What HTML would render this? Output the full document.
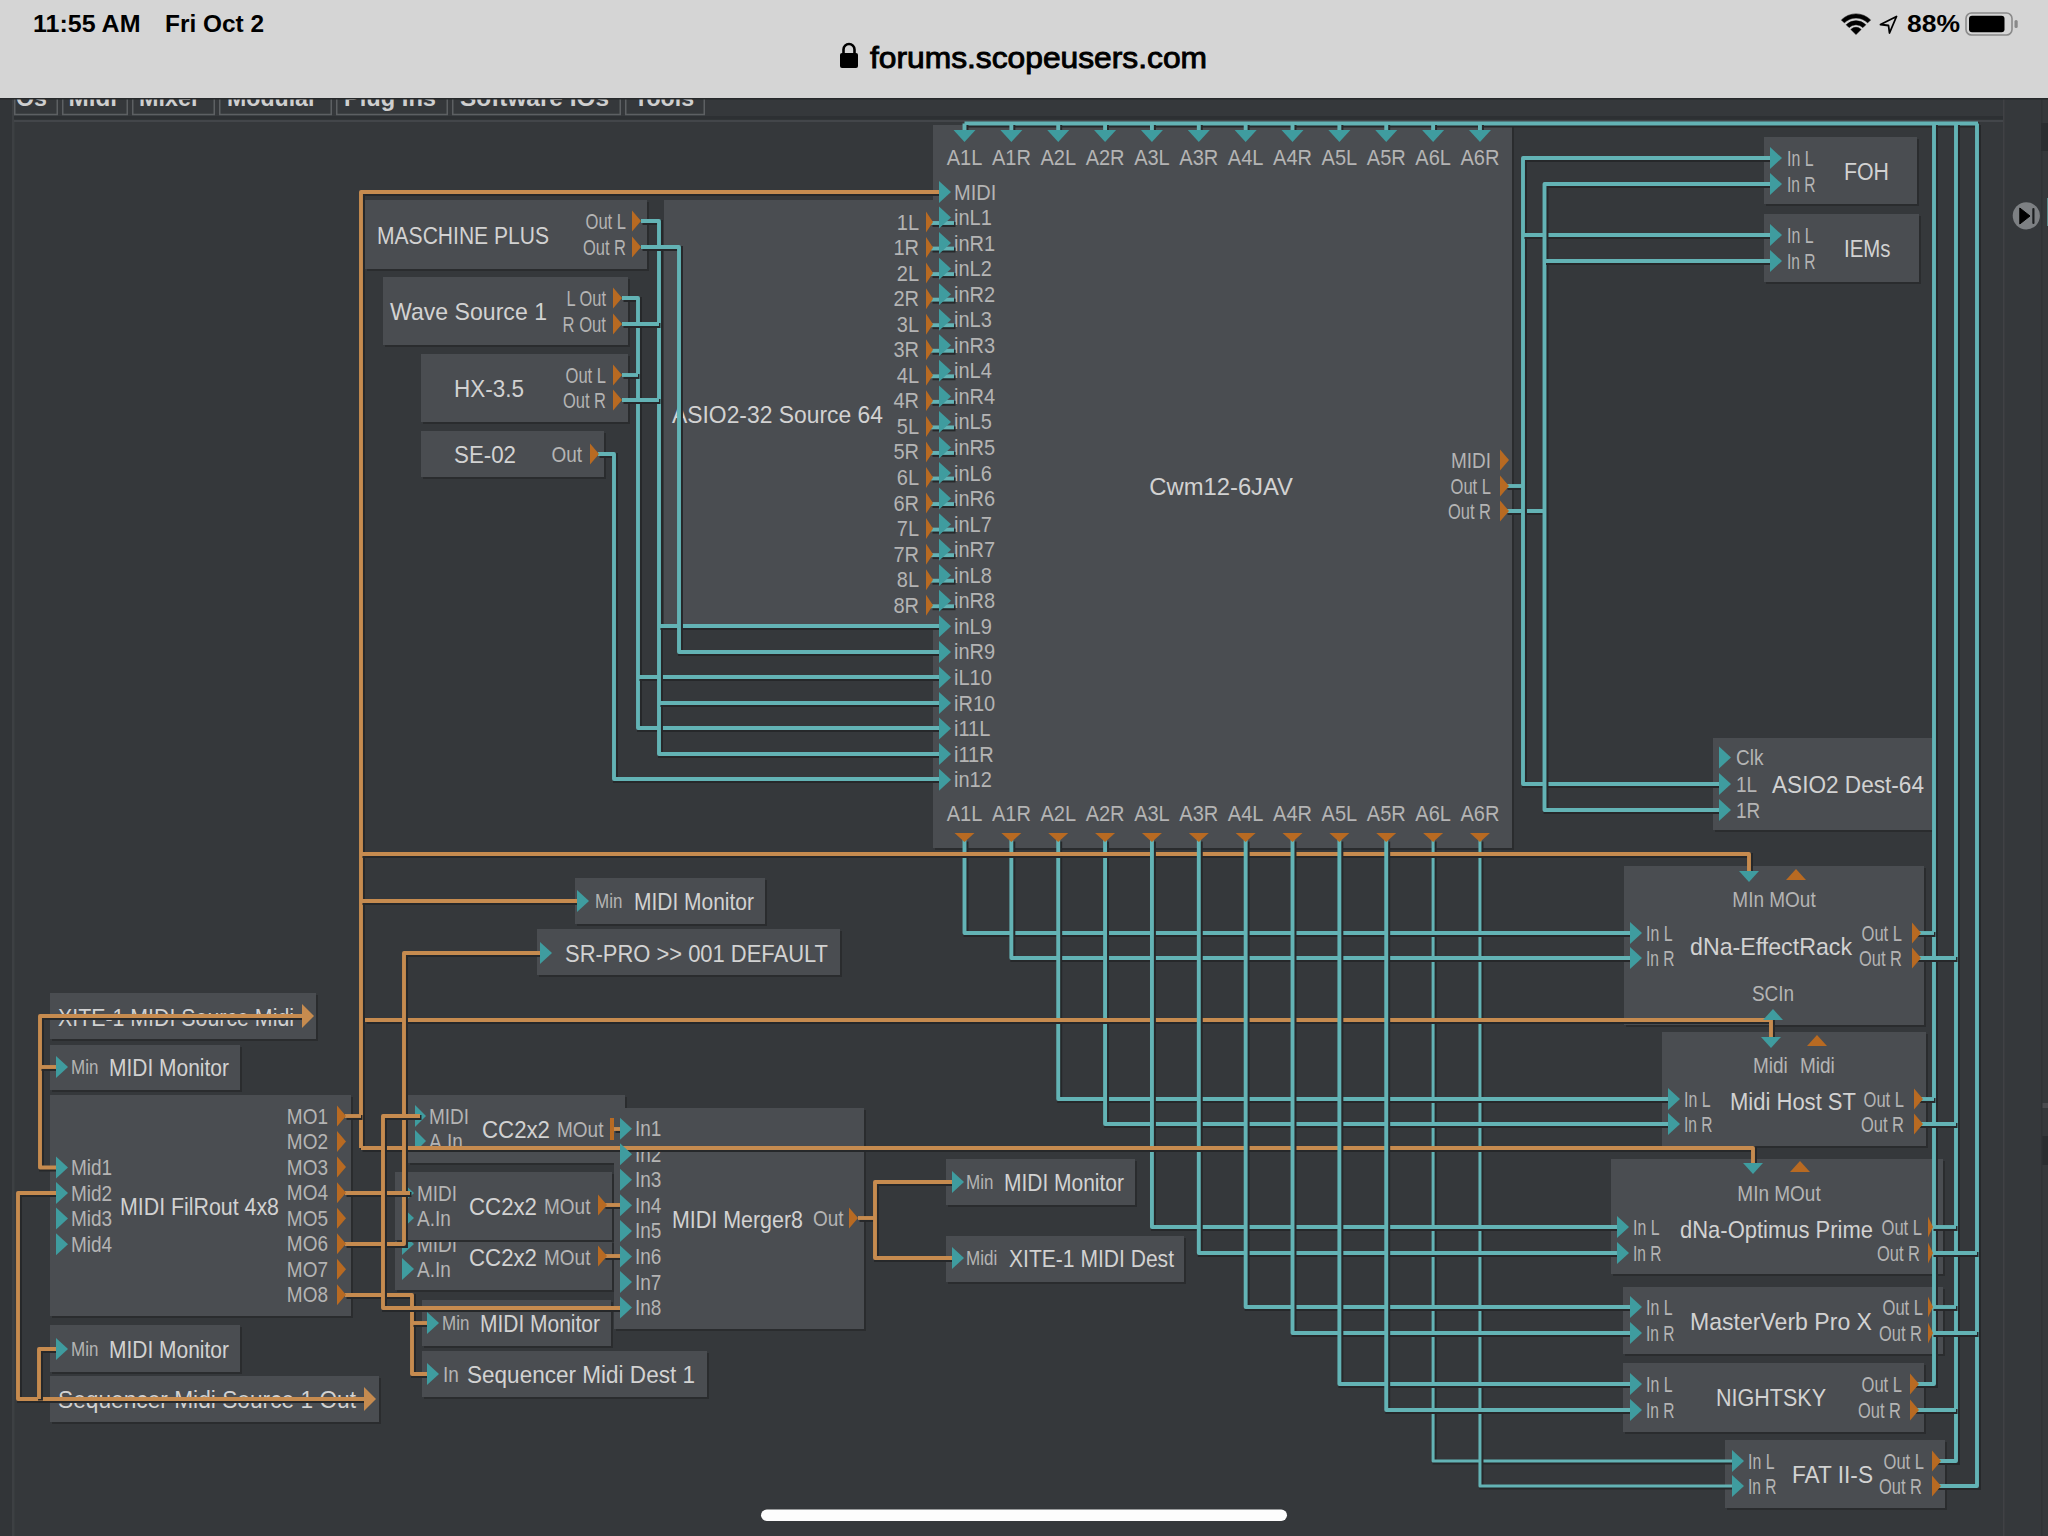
<!DOCTYPE html><html><head><meta charset="utf-8"><title>Scope</title><style>html,body{margin:0;padding:0;width:2048px;height:1536px;overflow:hidden;background:#35383b;}svg{display:block;}text{font-family:"Liberation Sans",sans-serif;}</style></head><body><svg width="2048" height="1536" viewBox="0 0 2048 1536"><rect x="0" y="0" width="2048" height="98" fill="#d5d5d5" />
<rect x="0" y="97" width="2048" height="2" fill="#2b2d2f" />
<rect x="0" y="99" width="2048" height="1437" fill="#35383b" />
<rect x="0" y="99" width="14" height="1437" fill="#323538" />
<rect x="12" y="99" width="2.5" height="1437" fill="#3d4043" />
<rect x="14" y="116" width="1989" height="3.5" fill="#2d3033" />
<rect x="14" y="120" width="1989" height="2" fill="#43464a" />
<rect x="2003" y="99" width="45" height="1437" fill="#35383b" />
<rect x="2003" y="99" width="1.5" height="1437" fill="#404145" />
<rect x="2041" y="1103" width="7" height="5" fill="#4a4b4f" />
<rect x="2041" y="1136" width="7" height="29" fill="#2a2d30" />
<rect x="2041" y="99" width="1.5" height="1437" fill="#2f3235" />
<rect x="2041" y="123" width="7" height="28" fill="#2a2d30" />
<rect x="14.75" y="80" width="42.5" height="34.5" fill="none" stroke="#5d6063" stroke-width="1.5"/>
<text x="16" y="106" font-size="23" font-weight="bold" fill="#cfcfcf" textLength="31" lengthAdjust="spacingAndGlyphs">Os</text>
<rect x="62.75" y="80" width="64.5" height="34.5" fill="none" stroke="#5d6063" stroke-width="1.5"/>
<text x="68.5" y="106" font-size="23" font-weight="bold" fill="#cfcfcf" textLength="48.5" lengthAdjust="spacingAndGlyphs">Midi</text>
<rect x="132.75" y="80" width="81.5" height="34.5" fill="none" stroke="#5d6063" stroke-width="1.5"/>
<text x="139" y="106" font-size="23" font-weight="bold" fill="#cfcfcf" textLength="61" lengthAdjust="spacingAndGlyphs">Mixer</text>
<rect x="219.75" y="80" width="111.5" height="34.5" fill="none" stroke="#5d6063" stroke-width="1.5"/>
<text x="227" y="106" font-size="23" font-weight="bold" fill="#cfcfcf" textLength="90" lengthAdjust="spacingAndGlyphs">Modular</text>
<rect x="336.75" y="80" width="110.5" height="34.5" fill="none" stroke="#5d6063" stroke-width="1.5"/>
<text x="344" y="106" font-size="23" font-weight="bold" fill="#cfcfcf" textLength="92" lengthAdjust="spacingAndGlyphs">Plug Ins</text>
<rect x="452.75" y="80" width="167.5" height="34.5" fill="none" stroke="#5d6063" stroke-width="1.5"/>
<text x="460" y="106" font-size="23" font-weight="bold" fill="#cfcfcf" textLength="149" lengthAdjust="spacingAndGlyphs">Software IOs</text>
<rect x="625.75" y="80" width="78.5" height="34.5" fill="none" stroke="#5d6063" stroke-width="1.5"/>
<text x="634" y="106" font-size="23" font-weight="bold" fill="#cfcfcf" textLength="60" lengthAdjust="spacingAndGlyphs">Tools</text>
<rect x="0" y="0" width="2048" height="98" fill="#d5d5d5" />
<rect x="0" y="98" width="2048" height="1.5" fill="#26282a" />
<rect x="367" y="202" width="282" height="69" fill="#2a2c2e" />
<rect x="365" y="200" width="282" height="69" fill="#4a4d51" />
<rect x="385" y="279" width="245" height="68" fill="#2a2c2e" />
<rect x="383" y="277" width="245" height="68" fill="#4a4d51" />
<rect x="423" y="356" width="207" height="68" fill="#2a2c2e" />
<rect x="421" y="354" width="207" height="68" fill="#4a4d51" />
<rect x="423" y="433" width="183" height="46" fill="#2a2c2e" />
<rect x="421" y="431" width="183" height="46" fill="#4a4d51" />
<rect x="666" y="202" width="269" height="424" fill="#2a2c2e" />
<rect x="664" y="200" width="269" height="424" fill="#4a4d51" />
<rect x="935" y="127" width="579" height="723" fill="#2a2c2e" />
<rect x="933" y="125" width="579" height="723" fill="#4a4d51" />
<rect x="1766" y="139" width="153" height="67" fill="#2a2c2e" />
<rect x="1764" y="137" width="153" height="67" fill="#4a4d51" />
<rect x="1766" y="216" width="155" height="68" fill="#2a2c2e" />
<rect x="1764" y="214" width="155" height="68" fill="#4a4d51" />
<rect x="1715" y="740" width="219" height="92" fill="#2a2c2e" />
<rect x="1713" y="738" width="219" height="92" fill="#4a4d51" />
<rect x="1626" y="868" width="300" height="159" fill="#2a2c2e" />
<rect x="1624" y="866" width="300" height="159" fill="#4a4d51" />
<rect x="1664" y="1034" width="264" height="114" fill="#2a2c2e" />
<rect x="1662" y="1032" width="264" height="114" fill="#4a4d51" />
<rect x="1613" y="1161" width="332" height="115" fill="#2a2c2e" />
<rect x="1611" y="1159" width="332" height="115" fill="#4a4d51" />
<rect x="1625" y="1289" width="320" height="67" fill="#2a2c2e" />
<rect x="1623" y="1287" width="320" height="67" fill="#4a4d51" />
<rect x="1625" y="1365" width="301" height="69" fill="#2a2c2e" />
<rect x="1623" y="1363" width="301" height="69" fill="#4a4d51" />
<rect x="1727" y="1442" width="220" height="68" fill="#2a2c2e" />
<rect x="1725" y="1440" width="220" height="68" fill="#4a4d51" />
<rect x="577" y="880" width="190" height="46" fill="#2a2c2e" />
<rect x="575" y="878" width="190" height="46" fill="#4a4d51" />
<rect x="539" y="931" width="303" height="46" fill="#2a2c2e" />
<rect x="537" y="929" width="303" height="46" fill="#4a4d51" />
<rect x="52" y="995" width="266" height="46" fill="#2a2c2e" />
<rect x="50" y="993" width="266" height="46" fill="#4a4d51" />
<rect x="52" y="1047" width="190" height="45" fill="#2a2c2e" />
<rect x="50" y="1045" width="190" height="45" fill="#4a4d51" />
<rect x="52" y="1097" width="301" height="221" fill="#2a2c2e" />
<rect x="50" y="1095" width="301" height="221" fill="#4a4d51" />
<rect x="424" y="1302" width="189" height="46" fill="#2a2c2e" />
<rect x="422" y="1300" width="189" height="46" fill="#4a4d51" />
<rect x="424" y="1353" width="285" height="46" fill="#2a2c2e" />
<rect x="422" y="1351" width="285" height="46" fill="#4a4d51" />
<rect x="52" y="1327" width="190" height="47" fill="#2a2c2e" />
<rect x="50" y="1325" width="190" height="47" fill="#4a4d51" />
<rect x="52" y="1378" width="329" height="46" fill="#2a2c2e" />
<rect x="50" y="1376" width="329" height="46" fill="#4a4d51" />
<rect x="948" y="1161" width="189" height="46" fill="#2a2c2e" />
<rect x="946" y="1159" width="189" height="46" fill="#4a4d51" />
<rect x="948" y="1238" width="238" height="46" fill="#2a2c2e" />
<rect x="946" y="1236" width="238" height="46" fill="#4a4d51" />
<text x="377" y="243.5" font-size="24.6" text-anchor="start" fill="#d2d2d2" font-weight="normal" textLength="172" lengthAdjust="spacingAndGlyphs">MASCHINE PLUS</text>
<text x="626" y="228.5" font-size="21.7" text-anchor="end" fill="#b4b4b4" font-weight="normal" textLength="40.5" lengthAdjust="spacingAndGlyphs">Out L</text>
<text x="626" y="254.5" font-size="21.7" text-anchor="end" fill="#b4b4b4" font-weight="normal" textLength="43" lengthAdjust="spacingAndGlyphs">Out R</text>
<text x="390" y="319.5" font-size="24.6" text-anchor="start" fill="#d2d2d2" font-weight="normal" textLength="157" lengthAdjust="spacingAndGlyphs">Wave Source 1</text>
<text x="606" y="305.5" font-size="21.7" text-anchor="end" fill="#b4b4b4" font-weight="normal" textLength="39.5" lengthAdjust="spacingAndGlyphs">L Out</text>
<text x="606" y="331.5" font-size="21.7" text-anchor="end" fill="#b4b4b4" font-weight="normal" textLength="43.5" lengthAdjust="spacingAndGlyphs">R Out</text>
<text x="454" y="396.5" font-size="24.6" text-anchor="start" fill="#d2d2d2" font-weight="normal" textLength="70" lengthAdjust="spacingAndGlyphs">HX-3.5</text>
<text x="606" y="382.5" font-size="21.7" text-anchor="end" fill="#b4b4b4" font-weight="normal" textLength="40.5" lengthAdjust="spacingAndGlyphs">Out L</text>
<text x="606" y="407.5" font-size="21.7" text-anchor="end" fill="#b4b4b4" font-weight="normal" textLength="43" lengthAdjust="spacingAndGlyphs">Out R</text>
<text x="454" y="462.5" font-size="24.6" text-anchor="start" fill="#d2d2d2" font-weight="normal" textLength="62" lengthAdjust="spacingAndGlyphs">SE-02</text>
<text transform="translate(582,461.5) scale(0.876,1)" x="0" y="0" font-size="21.7" text-anchor="end" fill="#b4b4b4" font-weight="normal">Out</text>
<text x="672" y="422.5" font-size="24.6" text-anchor="start" fill="#d2d2d2" font-weight="normal" textLength="211" lengthAdjust="spacingAndGlyphs">ASIO2-32 Source 64</text>
<text transform="translate(919,229.5) scale(0.922,1)" x="0" y="0" font-size="21.7" text-anchor="end" fill="#b4b4b4" font-weight="normal">1L</text>
<text transform="translate(919,255.0) scale(0.922,1)" x="0" y="0" font-size="21.7" text-anchor="end" fill="#b4b4b4" font-weight="normal">1R</text>
<text transform="translate(919,280.6) scale(0.922,1)" x="0" y="0" font-size="21.7" text-anchor="end" fill="#b4b4b4" font-weight="normal">2L</text>
<text transform="translate(919,306.1) scale(0.922,1)" x="0" y="0" font-size="21.7" text-anchor="end" fill="#b4b4b4" font-weight="normal">2R</text>
<text transform="translate(919,331.7) scale(0.922,1)" x="0" y="0" font-size="21.7" text-anchor="end" fill="#b4b4b4" font-weight="normal">3L</text>
<text transform="translate(919,357.2) scale(0.922,1)" x="0" y="0" font-size="21.7" text-anchor="end" fill="#b4b4b4" font-weight="normal">3R</text>
<text transform="translate(919,382.8) scale(0.922,1)" x="0" y="0" font-size="21.7" text-anchor="end" fill="#b4b4b4" font-weight="normal">4L</text>
<text transform="translate(919,408.3) scale(0.922,1)" x="0" y="0" font-size="21.7" text-anchor="end" fill="#b4b4b4" font-weight="normal">4R</text>
<text transform="translate(919,433.9) scale(0.922,1)" x="0" y="0" font-size="21.7" text-anchor="end" fill="#b4b4b4" font-weight="normal">5L</text>
<text transform="translate(919,459.4) scale(0.922,1)" x="0" y="0" font-size="21.7" text-anchor="end" fill="#b4b4b4" font-weight="normal">5R</text>
<text transform="translate(919,485.0) scale(0.922,1)" x="0" y="0" font-size="21.7" text-anchor="end" fill="#b4b4b4" font-weight="normal">6L</text>
<text transform="translate(919,510.5) scale(0.922,1)" x="0" y="0" font-size="21.7" text-anchor="end" fill="#b4b4b4" font-weight="normal">6R</text>
<text transform="translate(919,536.1) scale(0.922,1)" x="0" y="0" font-size="21.7" text-anchor="end" fill="#b4b4b4" font-weight="normal">7L</text>
<text transform="translate(919,561.6) scale(0.922,1)" x="0" y="0" font-size="21.7" text-anchor="end" fill="#b4b4b4" font-weight="normal">7R</text>
<text transform="translate(919,587.2) scale(0.922,1)" x="0" y="0" font-size="21.7" text-anchor="end" fill="#b4b4b4" font-weight="normal">8L</text>
<text transform="translate(919,612.7) scale(0.922,1)" x="0" y="0" font-size="21.7" text-anchor="end" fill="#b4b4b4" font-weight="normal">8R</text>
<text transform="translate(964.5,164.5) scale(0.922,1)" x="0" y="0" font-size="21.7" text-anchor="middle" fill="#b4b4b4" font-weight="normal">A1L</text>
<text transform="translate(964.5,820.5) scale(0.922,1)" x="0" y="0" font-size="21.7" text-anchor="middle" fill="#b4b4b4" font-weight="normal">A1L</text>
<text transform="translate(1011.36,164.5) scale(0.922,1)" x="0" y="0" font-size="21.7" text-anchor="middle" fill="#b4b4b4" font-weight="normal">A1R</text>
<text transform="translate(1011.36,820.5) scale(0.922,1)" x="0" y="0" font-size="21.7" text-anchor="middle" fill="#b4b4b4" font-weight="normal">A1R</text>
<text transform="translate(1058.22,164.5) scale(0.922,1)" x="0" y="0" font-size="21.7" text-anchor="middle" fill="#b4b4b4" font-weight="normal">A2L</text>
<text transform="translate(1058.22,820.5) scale(0.922,1)" x="0" y="0" font-size="21.7" text-anchor="middle" fill="#b4b4b4" font-weight="normal">A2L</text>
<text transform="translate(1105.08,164.5) scale(0.922,1)" x="0" y="0" font-size="21.7" text-anchor="middle" fill="#b4b4b4" font-weight="normal">A2R</text>
<text transform="translate(1105.08,820.5) scale(0.922,1)" x="0" y="0" font-size="21.7" text-anchor="middle" fill="#b4b4b4" font-weight="normal">A2R</text>
<text transform="translate(1151.94,164.5) scale(0.922,1)" x="0" y="0" font-size="21.7" text-anchor="middle" fill="#b4b4b4" font-weight="normal">A3L</text>
<text transform="translate(1151.94,820.5) scale(0.922,1)" x="0" y="0" font-size="21.7" text-anchor="middle" fill="#b4b4b4" font-weight="normal">A3L</text>
<text transform="translate(1198.8,164.5) scale(0.922,1)" x="0" y="0" font-size="21.7" text-anchor="middle" fill="#b4b4b4" font-weight="normal">A3R</text>
<text transform="translate(1198.8,820.5) scale(0.922,1)" x="0" y="0" font-size="21.7" text-anchor="middle" fill="#b4b4b4" font-weight="normal">A3R</text>
<text transform="translate(1245.6599999999999,164.5) scale(0.922,1)" x="0" y="0" font-size="21.7" text-anchor="middle" fill="#b4b4b4" font-weight="normal">A4L</text>
<text transform="translate(1245.6599999999999,820.5) scale(0.922,1)" x="0" y="0" font-size="21.7" text-anchor="middle" fill="#b4b4b4" font-weight="normal">A4L</text>
<text transform="translate(1292.52,164.5) scale(0.922,1)" x="0" y="0" font-size="21.7" text-anchor="middle" fill="#b4b4b4" font-weight="normal">A4R</text>
<text transform="translate(1292.52,820.5) scale(0.922,1)" x="0" y="0" font-size="21.7" text-anchor="middle" fill="#b4b4b4" font-weight="normal">A4R</text>
<text transform="translate(1339.38,164.5) scale(0.922,1)" x="0" y="0" font-size="21.7" text-anchor="middle" fill="#b4b4b4" font-weight="normal">A5L</text>
<text transform="translate(1339.38,820.5) scale(0.922,1)" x="0" y="0" font-size="21.7" text-anchor="middle" fill="#b4b4b4" font-weight="normal">A5L</text>
<text transform="translate(1386.24,164.5) scale(0.922,1)" x="0" y="0" font-size="21.7" text-anchor="middle" fill="#b4b4b4" font-weight="normal">A5R</text>
<text transform="translate(1386.24,820.5) scale(0.922,1)" x="0" y="0" font-size="21.7" text-anchor="middle" fill="#b4b4b4" font-weight="normal">A5R</text>
<text transform="translate(1433.1,164.5) scale(0.922,1)" x="0" y="0" font-size="21.7" text-anchor="middle" fill="#b4b4b4" font-weight="normal">A6L</text>
<text transform="translate(1433.1,820.5) scale(0.922,1)" x="0" y="0" font-size="21.7" text-anchor="middle" fill="#b4b4b4" font-weight="normal">A6L</text>
<text transform="translate(1479.96,164.5) scale(0.922,1)" x="0" y="0" font-size="21.7" text-anchor="middle" fill="#b4b4b4" font-weight="normal">A6R</text>
<text transform="translate(1479.96,820.5) scale(0.922,1)" x="0" y="0" font-size="21.7" text-anchor="middle" fill="#b4b4b4" font-weight="normal">A6R</text>
<text transform="translate(954,199.5) scale(0.922,1)" x="0" y="0" font-size="21.7" text-anchor="start" fill="#b4b4b4" font-weight="normal">MIDI</text>
<text transform="translate(954,225.0) scale(0.922,1)" x="0" y="0" font-size="21.7" text-anchor="start" fill="#b4b4b4" font-weight="normal">inL1</text>
<text transform="translate(954,250.6) scale(0.922,1)" x="0" y="0" font-size="21.7" text-anchor="start" fill="#b4b4b4" font-weight="normal">inR1</text>
<text transform="translate(954,276.1) scale(0.922,1)" x="0" y="0" font-size="21.7" text-anchor="start" fill="#b4b4b4" font-weight="normal">inL2</text>
<text transform="translate(954,301.7) scale(0.922,1)" x="0" y="0" font-size="21.7" text-anchor="start" fill="#b4b4b4" font-weight="normal">inR2</text>
<text transform="translate(954,327.2) scale(0.922,1)" x="0" y="0" font-size="21.7" text-anchor="start" fill="#b4b4b4" font-weight="normal">inL3</text>
<text transform="translate(954,352.8) scale(0.922,1)" x="0" y="0" font-size="21.7" text-anchor="start" fill="#b4b4b4" font-weight="normal">inR3</text>
<text transform="translate(954,378.3) scale(0.922,1)" x="0" y="0" font-size="21.7" text-anchor="start" fill="#b4b4b4" font-weight="normal">inL4</text>
<text transform="translate(954,403.9) scale(0.922,1)" x="0" y="0" font-size="21.7" text-anchor="start" fill="#b4b4b4" font-weight="normal">inR4</text>
<text transform="translate(954,429.4) scale(0.922,1)" x="0" y="0" font-size="21.7" text-anchor="start" fill="#b4b4b4" font-weight="normal">inL5</text>
<text transform="translate(954,455.0) scale(0.922,1)" x="0" y="0" font-size="21.7" text-anchor="start" fill="#b4b4b4" font-weight="normal">inR5</text>
<text transform="translate(954,480.5) scale(0.922,1)" x="0" y="0" font-size="21.7" text-anchor="start" fill="#b4b4b4" font-weight="normal">inL6</text>
<text transform="translate(954,506.1) scale(0.922,1)" x="0" y="0" font-size="21.7" text-anchor="start" fill="#b4b4b4" font-weight="normal">inR6</text>
<text transform="translate(954,531.6) scale(0.922,1)" x="0" y="0" font-size="21.7" text-anchor="start" fill="#b4b4b4" font-weight="normal">inL7</text>
<text transform="translate(954,557.2) scale(0.922,1)" x="0" y="0" font-size="21.7" text-anchor="start" fill="#b4b4b4" font-weight="normal">inR7</text>
<text transform="translate(954,582.7) scale(0.922,1)" x="0" y="0" font-size="21.7" text-anchor="start" fill="#b4b4b4" font-weight="normal">inL8</text>
<text transform="translate(954,608.3) scale(0.922,1)" x="0" y="0" font-size="21.7" text-anchor="start" fill="#b4b4b4" font-weight="normal">inR8</text>
<text transform="translate(954,633.8) scale(0.922,1)" x="0" y="0" font-size="21.7" text-anchor="start" fill="#b4b4b4" font-weight="normal">inL9</text>
<text transform="translate(954,659.4) scale(0.922,1)" x="0" y="0" font-size="21.7" text-anchor="start" fill="#b4b4b4" font-weight="normal">inR9</text>
<text transform="translate(954,684.9) scale(0.922,1)" x="0" y="0" font-size="21.7" text-anchor="start" fill="#b4b4b4" font-weight="normal">iL10</text>
<text transform="translate(954,710.5) scale(0.922,1)" x="0" y="0" font-size="21.7" text-anchor="start" fill="#b4b4b4" font-weight="normal">iR10</text>
<text transform="translate(954,736.0) scale(0.922,1)" x="0" y="0" font-size="21.7" text-anchor="start" fill="#b4b4b4" font-weight="normal">i11L</text>
<text transform="translate(954,761.6) scale(0.922,1)" x="0" y="0" font-size="21.7" text-anchor="start" fill="#b4b4b4" font-weight="normal">i11R</text>
<text transform="translate(954,787.1) scale(0.922,1)" x="0" y="0" font-size="21.7" text-anchor="start" fill="#b4b4b4" font-weight="normal">in12</text>
<text x="1149.3" y="494.7" font-size="24.6" text-anchor="start" fill="#d2d2d2" font-weight="normal" textLength="143.7" lengthAdjust="spacingAndGlyphs">Cwm12-6JAV</text>
<text transform="translate(1491,467.5) scale(0.876,1)" x="0" y="0" font-size="21.7" text-anchor="end" fill="#b4b4b4" font-weight="normal">MIDI</text>
<text x="1491" y="493.5" font-size="21.7" text-anchor="end" fill="#b4b4b4" font-weight="normal" textLength="40.5" lengthAdjust="spacingAndGlyphs">Out L</text>
<text x="1491" y="518.5" font-size="21.7" text-anchor="end" fill="#b4b4b4" font-weight="normal" textLength="43" lengthAdjust="spacingAndGlyphs">Out R</text>
<text x="1787" y="165.5" font-size="21.7" text-anchor="start" fill="#b4b4b4" font-weight="normal" textLength="26.5" lengthAdjust="spacingAndGlyphs">In L</text>
<text x="1787" y="191.5" font-size="21.7" text-anchor="start" fill="#b4b4b4" font-weight="normal" textLength="28.5" lengthAdjust="spacingAndGlyphs">In R</text>
<text x="1844" y="179.5" font-size="24.6" text-anchor="start" fill="#d2d2d2" font-weight="normal" textLength="45" lengthAdjust="spacingAndGlyphs">FOH</text>
<text x="1787" y="242.5" font-size="21.7" text-anchor="start" fill="#b4b4b4" font-weight="normal" textLength="26.5" lengthAdjust="spacingAndGlyphs">In L</text>
<text x="1787" y="268.5" font-size="21.7" text-anchor="start" fill="#b4b4b4" font-weight="normal" textLength="28.5" lengthAdjust="spacingAndGlyphs">In R</text>
<text x="1844" y="256.5" font-size="24.6" text-anchor="start" fill="#d2d2d2" font-weight="normal" textLength="46.5" lengthAdjust="spacingAndGlyphs">IEMs</text>
<text transform="translate(1736,765.0) scale(0.876,1)" x="0" y="0" font-size="21.7" text-anchor="start" fill="#b4b4b4" font-weight="normal">Clk</text>
<text transform="translate(1736,791.5) scale(0.876,1)" x="0" y="0" font-size="21.7" text-anchor="start" fill="#b4b4b4" font-weight="normal">1L</text>
<text transform="translate(1736,817.5) scale(0.876,1)" x="0" y="0" font-size="21.7" text-anchor="start" fill="#b4b4b4" font-weight="normal">1R</text>
<text x="1772" y="792.5" font-size="24.6" text-anchor="start" fill="#d2d2d2" font-weight="normal" textLength="152" lengthAdjust="spacingAndGlyphs">ASIO2 Dest-64</text>
<text transform="translate(1774,906.5) scale(0.876,1)" x="0" y="0" font-size="21.7" text-anchor="middle" fill="#b4b4b4" font-weight="normal">MIn MOut</text>
<text x="1646" y="940.5" font-size="21.7" text-anchor="start" fill="#b4b4b4" font-weight="normal" textLength="26.5" lengthAdjust="spacingAndGlyphs">In L</text>
<text x="1646" y="965.5" font-size="21.7" text-anchor="start" fill="#b4b4b4" font-weight="normal" textLength="28.5" lengthAdjust="spacingAndGlyphs">In R</text>
<text x="1690" y="954.5" font-size="24.6" text-anchor="start" fill="#d2d2d2" font-weight="normal" textLength="162" lengthAdjust="spacingAndGlyphs">dNa-EffectRack</text>
<text x="1902" y="940.5" font-size="21.7" text-anchor="end" fill="#b4b4b4" font-weight="normal" textLength="40.5" lengthAdjust="spacingAndGlyphs">Out L</text>
<text x="1902" y="965.5" font-size="21.7" text-anchor="end" fill="#b4b4b4" font-weight="normal" textLength="43" lengthAdjust="spacingAndGlyphs">Out R</text>
<text transform="translate(1773,1000.5) scale(0.876,1)" x="0" y="0" font-size="21.7" text-anchor="middle" fill="#b4b4b4" font-weight="normal">SCIn</text>
<text transform="translate(1753,1072.5) scale(0.876,1)" x="0" y="0" font-size="21.7" text-anchor="start" fill="#b4b4b4" font-weight="normal">Midi</text>
<text transform="translate(1800,1072.5) scale(0.876,1)" x="0" y="0" font-size="21.7" text-anchor="start" fill="#b4b4b4" font-weight="normal">Midi</text>
<text x="1684" y="1106.5" font-size="21.7" text-anchor="start" fill="#b4b4b4" font-weight="normal" textLength="26.5" lengthAdjust="spacingAndGlyphs">In L</text>
<text x="1684" y="1131.5" font-size="21.7" text-anchor="start" fill="#b4b4b4" font-weight="normal" textLength="28.5" lengthAdjust="spacingAndGlyphs">In R</text>
<text x="1730" y="1109.5" font-size="24.6" text-anchor="start" fill="#d2d2d2" font-weight="normal" textLength="126" lengthAdjust="spacingAndGlyphs">Midi Host ST</text>
<text x="1904" y="1106.5" font-size="21.7" text-anchor="end" fill="#b4b4b4" font-weight="normal" textLength="40.5" lengthAdjust="spacingAndGlyphs">Out L</text>
<text x="1904" y="1131.5" font-size="21.7" text-anchor="end" fill="#b4b4b4" font-weight="normal" textLength="43" lengthAdjust="spacingAndGlyphs">Out R</text>
<text transform="translate(1779,1200.5) scale(0.876,1)" x="0" y="0" font-size="21.7" text-anchor="middle" fill="#b4b4b4" font-weight="normal">MIn MOut</text>
<text x="1633" y="1234.5" font-size="21.7" text-anchor="start" fill="#b4b4b4" font-weight="normal" textLength="26.5" lengthAdjust="spacingAndGlyphs">In L</text>
<text x="1633" y="1260.5" font-size="21.7" text-anchor="start" fill="#b4b4b4" font-weight="normal" textLength="28.5" lengthAdjust="spacingAndGlyphs">In R</text>
<text x="1680" y="1237.5" font-size="24.6" text-anchor="start" fill="#d2d2d2" font-weight="normal" textLength="193" lengthAdjust="spacingAndGlyphs">dNa-Optimus Prime</text>
<text x="1922" y="1234.5" font-size="21.7" text-anchor="end" fill="#b4b4b4" font-weight="normal" textLength="40.5" lengthAdjust="spacingAndGlyphs">Out L</text>
<text x="1920" y="1260.5" font-size="21.7" text-anchor="end" fill="#b4b4b4" font-weight="normal" textLength="43" lengthAdjust="spacingAndGlyphs">Out R</text>
<text x="1646" y="1314.5" font-size="21.7" text-anchor="start" fill="#b4b4b4" font-weight="normal" textLength="26.5" lengthAdjust="spacingAndGlyphs">In L</text>
<text x="1646" y="1340.5" font-size="21.7" text-anchor="start" fill="#b4b4b4" font-weight="normal" textLength="28.5" lengthAdjust="spacingAndGlyphs">In R</text>
<text x="1690" y="1329.5" font-size="24.6" text-anchor="start" fill="#d2d2d2" font-weight="normal" textLength="182" lengthAdjust="spacingAndGlyphs">MasterVerb Pro X</text>
<text x="1923" y="1314.5" font-size="21.7" text-anchor="end" fill="#b4b4b4" font-weight="normal" textLength="40.5" lengthAdjust="spacingAndGlyphs">Out L</text>
<text x="1922" y="1340.5" font-size="21.7" text-anchor="end" fill="#b4b4b4" font-weight="normal" textLength="43" lengthAdjust="spacingAndGlyphs">Out R</text>
<text x="1646" y="1391.5" font-size="21.7" text-anchor="start" fill="#b4b4b4" font-weight="normal" textLength="26.5" lengthAdjust="spacingAndGlyphs">In L</text>
<text x="1646" y="1417.5" font-size="21.7" text-anchor="start" fill="#b4b4b4" font-weight="normal" textLength="28.5" lengthAdjust="spacingAndGlyphs">In R</text>
<text x="1771" y="1405.5" font-size="24.6" text-anchor="middle" fill="#d2d2d2" font-weight="normal" textLength="110" lengthAdjust="spacingAndGlyphs">NIGHTSKY</text>
<text x="1902" y="1391.5" font-size="21.7" text-anchor="end" fill="#b4b4b4" font-weight="normal" textLength="40.5" lengthAdjust="spacingAndGlyphs">Out L</text>
<text x="1901" y="1417.5" font-size="21.7" text-anchor="end" fill="#b4b4b4" font-weight="normal" textLength="43" lengthAdjust="spacingAndGlyphs">Out R</text>
<text x="1748" y="1468.5" font-size="21.7" text-anchor="start" fill="#b4b4b4" font-weight="normal" textLength="26.5" lengthAdjust="spacingAndGlyphs">In L</text>
<text x="1748" y="1493.5" font-size="21.7" text-anchor="start" fill="#b4b4b4" font-weight="normal" textLength="28.5" lengthAdjust="spacingAndGlyphs">In R</text>
<text x="1792" y="1482.5" font-size="24.6" text-anchor="start" fill="#d2d2d2" font-weight="normal" textLength="81" lengthAdjust="spacingAndGlyphs">FAT II-S</text>
<text x="1924" y="1468.5" font-size="21.7" text-anchor="end" fill="#b4b4b4" font-weight="normal" textLength="40.5" lengthAdjust="spacingAndGlyphs">Out L</text>
<text x="1922" y="1493.5" font-size="21.7" text-anchor="end" fill="#b4b4b4" font-weight="normal" textLength="43" lengthAdjust="spacingAndGlyphs">Out R</text>
<text transform="translate(595,907.9) scale(0.854,1)" x="0" y="0" font-size="19.9" text-anchor="start" fill="#b4b4b4" font-weight="normal">Min</text>
<text x="634" y="909.5" font-size="24.6" text-anchor="start" fill="#d2d2d2" font-weight="normal" textLength="120" lengthAdjust="spacingAndGlyphs">MIDI Monitor</text>
<text x="565" y="961.5" font-size="24.6" text-anchor="start" fill="#d2d2d2" font-weight="normal" textLength="263" lengthAdjust="spacingAndGlyphs">SR-PRO &gt;&gt; 001 DEFAULT</text>
<text x="58" y="1025.5" font-size="24.6" text-anchor="start" fill="#d2d2d2" font-weight="normal" textLength="236" lengthAdjust="spacingAndGlyphs">XITE-1 MIDI Source  Midi</text>
<text transform="translate(71,1073.9) scale(0.854,1)" x="0" y="0" font-size="19.9" text-anchor="start" fill="#b4b4b4" font-weight="normal">Min</text>
<text x="109" y="1075.5" font-size="24.6" text-anchor="start" fill="#d2d2d2" font-weight="normal" textLength="120" lengthAdjust="spacingAndGlyphs">MIDI Monitor</text>
<text transform="translate(71,1175.0) scale(0.876,1)" x="0" y="0" font-size="21.7" text-anchor="start" fill="#b4b4b4" font-weight="normal">Mid1</text>
<text transform="translate(71,1200.5) scale(0.876,1)" x="0" y="0" font-size="21.7" text-anchor="start" fill="#b4b4b4" font-weight="normal">Mid2</text>
<text transform="translate(71,1226.1) scale(0.876,1)" x="0" y="0" font-size="21.7" text-anchor="start" fill="#b4b4b4" font-weight="normal">Mid3</text>
<text transform="translate(71,1251.6) scale(0.876,1)" x="0" y="0" font-size="21.7" text-anchor="start" fill="#b4b4b4" font-weight="normal">Mid4</text>
<text transform="translate(328,1123.5) scale(0.876,1)" x="0" y="0" font-size="21.7" text-anchor="end" fill="#b4b4b4" font-weight="normal">MO1</text>
<text transform="translate(328,1149.0) scale(0.876,1)" x="0" y="0" font-size="21.7" text-anchor="end" fill="#b4b4b4" font-weight="normal">MO2</text>
<text transform="translate(328,1174.6) scale(0.876,1)" x="0" y="0" font-size="21.7" text-anchor="end" fill="#b4b4b4" font-weight="normal">MO3</text>
<text transform="translate(328,1200.1) scale(0.876,1)" x="0" y="0" font-size="21.7" text-anchor="end" fill="#b4b4b4" font-weight="normal">MO4</text>
<text transform="translate(328,1225.7) scale(0.876,1)" x="0" y="0" font-size="21.7" text-anchor="end" fill="#b4b4b4" font-weight="normal">MO5</text>
<text transform="translate(328,1251.2) scale(0.876,1)" x="0" y="0" font-size="21.7" text-anchor="end" fill="#b4b4b4" font-weight="normal">MO6</text>
<text transform="translate(328,1276.8) scale(0.876,1)" x="0" y="0" font-size="21.7" text-anchor="end" fill="#b4b4b4" font-weight="normal">MO7</text>
<text transform="translate(328,1302.3) scale(0.876,1)" x="0" y="0" font-size="21.7" text-anchor="end" fill="#b4b4b4" font-weight="normal">MO8</text>
<text x="120" y="1214.5" font-size="24.6" text-anchor="start" fill="#d2d2d2" font-weight="normal" textLength="159" lengthAdjust="spacingAndGlyphs">MIDI FilRout 4x8</text>
<rect x="410" y="1097" width="217" height="68" fill="#2a2c2e" />
<rect x="408" y="1095" width="217" height="68" fill="#4a4d51" />
<text transform="translate(429,1123.5) scale(0.876,1)" x="0" y="0" font-size="21.7" text-anchor="start" fill="#b4b4b4" font-weight="normal">MIDI</text>
<text transform="translate(429,1148.5) scale(0.876,1)" x="0" y="0" font-size="21.7" text-anchor="start" fill="#b4b4b4" font-weight="normal">A.In</text>
<text x="482" y="1137.5" font-size="24.6" text-anchor="start" fill="#d2d2d2" font-weight="normal" textLength="68" lengthAdjust="spacingAndGlyphs">CC2x2</text>
<text transform="translate(557,1136.5) scale(0.876,1)" x="0" y="0" font-size="21.7" text-anchor="start" fill="#b4b4b4" font-weight="normal">MOut</text>
<polygon points="415,1105.0 426,1116 415,1127.0" fill="#3f9c9f"/>
<polygon points="415,1130.0 426,1141 415,1152.0" fill="#3f9c9f"/>
<rect x="610" y="1118" width="4" height="22" fill="#b86a22" />
<rect x="616" y="1110" width="250" height="221" fill="#2a2c2e" />
<rect x="614" y="1108" width="250" height="221" fill="#4a4d51" />
<text transform="translate(635,1136.2) scale(0.876,1)" x="0" y="0" font-size="21.7" text-anchor="start" fill="#b4b4b4" font-weight="normal">In1</text>
<text transform="translate(635,1161.7) scale(0.876,1)" x="0" y="0" font-size="21.7" text-anchor="start" fill="#b4b4b4" font-weight="normal">In2</text>
<text transform="translate(635,1187.3) scale(0.876,1)" x="0" y="0" font-size="21.7" text-anchor="start" fill="#b4b4b4" font-weight="normal">In3</text>
<text transform="translate(635,1212.8) scale(0.876,1)" x="0" y="0" font-size="21.7" text-anchor="start" fill="#b4b4b4" font-weight="normal">In4</text>
<text transform="translate(635,1238.4) scale(0.876,1)" x="0" y="0" font-size="21.7" text-anchor="start" fill="#b4b4b4" font-weight="normal">In5</text>
<text transform="translate(635,1263.9) scale(0.876,1)" x="0" y="0" font-size="21.7" text-anchor="start" fill="#b4b4b4" font-weight="normal">In6</text>
<text transform="translate(635,1289.5) scale(0.876,1)" x="0" y="0" font-size="21.7" text-anchor="start" fill="#b4b4b4" font-weight="normal">In7</text>
<text transform="translate(635,1315.0) scale(0.876,1)" x="0" y="0" font-size="21.7" text-anchor="start" fill="#b4b4b4" font-weight="normal">In8</text>
<text x="672" y="1227.5" font-size="24.6" text-anchor="start" fill="#d2d2d2" font-weight="normal" textLength="131" lengthAdjust="spacingAndGlyphs">MIDI Merger8</text>
<text transform="translate(813,1225.5) scale(0.876,1)" x="0" y="0" font-size="21.7" text-anchor="start" fill="#b4b4b4" font-weight="normal">Out</text>
<rect x="397" y="1243" width="217" height="49" fill="#2a2c2e" />
<rect x="395" y="1241" width="217" height="49" fill="#4a4d51" />
<text transform="translate(417,1251.5) scale(0.876,1)" x="0" y="0" font-size="21.7" text-anchor="start" fill="#b4b4b4" font-weight="normal">MIDI</text>
<text transform="translate(417,1276.5) scale(0.876,1)" x="0" y="0" font-size="21.7" text-anchor="start" fill="#b4b4b4" font-weight="normal">A.In</text>
<text x="469" y="1265.5" font-size="24.6" text-anchor="start" fill="#d2d2d2" font-weight="normal" textLength="68" lengthAdjust="spacingAndGlyphs">CC2x2</text>
<text transform="translate(544,1264.5) scale(0.876,1)" x="0" y="0" font-size="21.7" text-anchor="start" fill="#b4b4b4" font-weight="normal">MOut</text>
<polygon points="402,1233.0 414,1244 402,1255.0" fill="#3f9c9f"/>
<polygon points="402,1258.0 414,1269 402,1280.0" fill="#3f9c9f"/>
<rect x="397" y="1174" width="217" height="68" fill="#2a2c2e" />
<rect x="395" y="1172" width="217" height="68" fill="#4a4d51" />
<text transform="translate(417,1200.5) scale(0.876,1)" x="0" y="0" font-size="21.7" text-anchor="start" fill="#b4b4b4" font-weight="normal">MIDI</text>
<text transform="translate(417,1225.5) scale(0.876,1)" x="0" y="0" font-size="21.7" text-anchor="start" fill="#b4b4b4" font-weight="normal">A.In</text>
<text x="469" y="1214.5" font-size="24.6" text-anchor="start" fill="#d2d2d2" font-weight="normal" textLength="68" lengthAdjust="spacingAndGlyphs">CC2x2</text>
<text transform="translate(544,1213.5) scale(0.876,1)" x="0" y="0" font-size="21.7" text-anchor="start" fill="#b4b4b4" font-weight="normal">MOut</text>
<polygon points="402,1182.0 414,1193 402,1204.0" fill="#3f9c9f"/>
<polygon points="402,1207.0 414,1218 402,1229.0" fill="#3f9c9f"/>
<text transform="translate(442,1329.9) scale(0.854,1)" x="0" y="0" font-size="19.9" text-anchor="start" fill="#b4b4b4" font-weight="normal">Min</text>
<text x="480" y="1331.5" font-size="24.6" text-anchor="start" fill="#d2d2d2" font-weight="normal" textLength="120" lengthAdjust="spacingAndGlyphs">MIDI Monitor</text>
<text transform="translate(443,1381.5) scale(0.876,1)" x="0" y="0" font-size="21.7" text-anchor="start" fill="#b4b4b4" font-weight="normal">In</text>
<text x="467" y="1382.5" font-size="24.6" text-anchor="start" fill="#d2d2d2" font-weight="normal" textLength="228" lengthAdjust="spacingAndGlyphs">Sequencer Midi Dest 1</text>
<text transform="translate(71,1355.9) scale(0.854,1)" x="0" y="0" font-size="19.9" text-anchor="start" fill="#b4b4b4" font-weight="normal">Min</text>
<text x="109" y="1357.5" font-size="24.6" text-anchor="start" fill="#d2d2d2" font-weight="normal" textLength="120" lengthAdjust="spacingAndGlyphs">MIDI Monitor</text>
<text x="58" y="1407.5" font-size="24.6" text-anchor="start" fill="#d2d2d2" font-weight="normal" textLength="298" lengthAdjust="spacingAndGlyphs">Sequencer Midi Source 1  Out</text>
<text transform="translate(966,1188.9) scale(0.854,1)" x="0" y="0" font-size="19.9" text-anchor="start" fill="#b4b4b4" font-weight="normal">Min</text>
<text x="1004" y="1190.5" font-size="24.6" text-anchor="start" fill="#d2d2d2" font-weight="normal" textLength="120" lengthAdjust="spacingAndGlyphs">MIDI Monitor</text>
<text transform="translate(966,1264.9) scale(0.854,1)" x="0" y="0" font-size="19.9" text-anchor="start" fill="#b4b4b4" font-weight="normal">Midi</text>
<text x="1009" y="1266.5" font-size="24.6" text-anchor="start" fill="#d2d2d2" font-weight="normal" textLength="165" lengthAdjust="spacingAndGlyphs">XITE-1 MIDI Dest</text>
<polyline points="966.0,125.0 1979.5,125.0" fill="none" stroke="#26282a" stroke-width="4.9"/>
<polyline points="964.5,123.5 1978,123.5" fill="none" stroke="#63b3b5" stroke-width="3.9" stroke-linejoin="round"/>
<polyline points="966.0,125.0 966.0,135.5" fill="none" stroke="#26282a" stroke-width="4.9"/>
<polyline points="964.5,123.5 964.5,134" fill="none" stroke="#63b3b5" stroke-width="3.9" stroke-linejoin="round"/>
<polyline points="1012.86,125.0 1012.86,135.5" fill="none" stroke="#26282a" stroke-width="4.9"/>
<polyline points="1011.36,123.5 1011.36,134" fill="none" stroke="#63b3b5" stroke-width="3.9" stroke-linejoin="round"/>
<polyline points="1059.72,125.0 1059.72,135.5" fill="none" stroke="#26282a" stroke-width="4.9"/>
<polyline points="1058.22,123.5 1058.22,134" fill="none" stroke="#63b3b5" stroke-width="3.9" stroke-linejoin="round"/>
<polyline points="1106.58,125.0 1106.58,135.5" fill="none" stroke="#26282a" stroke-width="4.9"/>
<polyline points="1105.08,123.5 1105.08,134" fill="none" stroke="#63b3b5" stroke-width="3.9" stroke-linejoin="round"/>
<polyline points="1153.44,125.0 1153.44,135.5" fill="none" stroke="#26282a" stroke-width="4.9"/>
<polyline points="1151.94,123.5 1151.94,134" fill="none" stroke="#63b3b5" stroke-width="3.9" stroke-linejoin="round"/>
<polyline points="1200.3,125.0 1200.3,135.5" fill="none" stroke="#26282a" stroke-width="4.9"/>
<polyline points="1198.8,123.5 1198.8,134" fill="none" stroke="#63b3b5" stroke-width="3.9" stroke-linejoin="round"/>
<polyline points="1247.1599999999999,125.0 1247.1599999999999,135.5" fill="none" stroke="#26282a" stroke-width="4.9"/>
<polyline points="1245.6599999999999,123.5 1245.6599999999999,134" fill="none" stroke="#63b3b5" stroke-width="3.9" stroke-linejoin="round"/>
<polyline points="1294.02,125.0 1294.02,135.5" fill="none" stroke="#26282a" stroke-width="4.9"/>
<polyline points="1292.52,123.5 1292.52,134" fill="none" stroke="#63b3b5" stroke-width="3.9" stroke-linejoin="round"/>
<polyline points="1340.88,125.0 1340.88,135.5" fill="none" stroke="#26282a" stroke-width="4.9"/>
<polyline points="1339.38,123.5 1339.38,134" fill="none" stroke="#63b3b5" stroke-width="3.9" stroke-linejoin="round"/>
<polyline points="1387.74,125.0 1387.74,135.5" fill="none" stroke="#26282a" stroke-width="4.9"/>
<polyline points="1386.24,123.5 1386.24,134" fill="none" stroke="#63b3b5" stroke-width="3.9" stroke-linejoin="round"/>
<polyline points="1434.6,125.0 1434.6,135.5" fill="none" stroke="#26282a" stroke-width="4.9"/>
<polyline points="1433.1,123.5 1433.1,134" fill="none" stroke="#63b3b5" stroke-width="3.9" stroke-linejoin="round"/>
<polyline points="1481.46,125.0 1481.46,135.5" fill="none" stroke="#26282a" stroke-width="4.9"/>
<polyline points="1479.96,123.5 1479.96,134" fill="none" stroke="#63b3b5" stroke-width="3.9" stroke-linejoin="round"/>
<polyline points="1935.5,125.0 1935.5,1385.5 1915.5,1385.5" fill="none" stroke="#26282a" stroke-width="4.9"/>
<polyline points="1934,123.5 1934,1384 1914,1384" fill="none" stroke="#63b3b5" stroke-width="3.9" stroke-linejoin="round"/>
<polyline points="1957.5,125.0 1957.5,1462.5 1937.5,1462.5" fill="none" stroke="#26282a" stroke-width="4.9"/>
<polyline points="1956,123.5 1956,1461 1936,1461" fill="none" stroke="#63b3b5" stroke-width="3.9" stroke-linejoin="round"/>
<polyline points="1978.5,125.0 1978.5,1487.5 1937.5,1487.5" fill="none" stroke="#26282a" stroke-width="4.9"/>
<polyline points="1977,123.5 1977,1486 1936,1486" fill="none" stroke="#63b3b5" stroke-width="3.9" stroke-linejoin="round"/>
<polyline points="1915.5,934.5 1935.5,934.5" fill="none" stroke="#26282a" stroke-width="4.9"/>
<polyline points="1914,933 1934,933" fill="none" stroke="#63b3b5" stroke-width="3.9" stroke-linejoin="round"/>
<polyline points="1915.5,959.5 1957.5,959.5" fill="none" stroke="#26282a" stroke-width="4.9"/>
<polyline points="1914,958 1956,958" fill="none" stroke="#63b3b5" stroke-width="3.9" stroke-linejoin="round"/>
<polyline points="1915.5,1100.5 1935.5,1100.5" fill="none" stroke="#26282a" stroke-width="4.9"/>
<polyline points="1914,1099 1934,1099" fill="none" stroke="#63b3b5" stroke-width="3.9" stroke-linejoin="round"/>
<polyline points="1915.5,1125.5 1957.5,1125.5" fill="none" stroke="#26282a" stroke-width="4.9"/>
<polyline points="1914,1124 1956,1124" fill="none" stroke="#63b3b5" stroke-width="3.9" stroke-linejoin="round"/>
<polyline points="1915.5,1411.5 1957.5,1411.5" fill="none" stroke="#26282a" stroke-width="4.9"/>
<polyline points="1914,1410 1956,1410" fill="none" stroke="#63b3b5" stroke-width="3.9" stroke-linejoin="round"/>
<polyline points="1933.5,1228.5 1957.5,1228.5" fill="none" stroke="#26282a" stroke-width="4.9"/>
<polyline points="1932,1227 1956,1227" fill="none" stroke="#63b3b5" stroke-width="3.9" stroke-linejoin="round"/>
<polyline points="1933.5,1254.5 1978.5,1254.5" fill="none" stroke="#26282a" stroke-width="4.9"/>
<polyline points="1932,1253 1977,1253" fill="none" stroke="#63b3b5" stroke-width="3.9" stroke-linejoin="round"/>
<polyline points="1933.5,1308.5 1957.5,1308.5" fill="none" stroke="#26282a" stroke-width="4.9"/>
<polyline points="1932,1307 1956,1307" fill="none" stroke="#63b3b5" stroke-width="3.9" stroke-linejoin="round"/>
<polyline points="1933.5,1334.5 1978.5,1334.5" fill="none" stroke="#26282a" stroke-width="4.9"/>
<polyline points="1932,1333 1977,1333" fill="none" stroke="#63b3b5" stroke-width="3.9" stroke-linejoin="round"/>
<polyline points="1507.5,487.5 1524.5,487.5" fill="none" stroke="#26282a" stroke-width="4.9"/>
<polyline points="1506,486 1523,486" fill="none" stroke="#63b3b5" stroke-width="3.9" stroke-linejoin="round"/>
<polyline points="1507.5,512.5 1546.0,512.5" fill="none" stroke="#26282a" stroke-width="4.9"/>
<polyline points="1506,511 1544.5,511" fill="none" stroke="#63b3b5" stroke-width="3.9" stroke-linejoin="round"/>
<polyline points="1771.5,159.5 1524.5,159.5 1524.5,785.5 1720.5,785.5" fill="none" stroke="#26282a" stroke-width="4.9"/>
<polyline points="1770,158 1523,158 1523,784 1719,784" fill="none" stroke="#63b3b5" stroke-width="3.9" stroke-linejoin="round"/>
<polyline points="1524.5,236.5 1771.5,236.5" fill="none" stroke="#26282a" stroke-width="4.9"/>
<polyline points="1523,235 1770,235" fill="none" stroke="#63b3b5" stroke-width="3.9" stroke-linejoin="round"/>
<polyline points="1771.5,185.5 1546.0,185.5 1546.0,811.5 1720.5,811.5" fill="none" stroke="#26282a" stroke-width="4.9"/>
<polyline points="1770,184 1544.5,184 1544.5,810 1719,810" fill="none" stroke="#63b3b5" stroke-width="3.9" stroke-linejoin="round"/>
<polyline points="1546.0,262.5 1771.5,262.5" fill="none" stroke="#26282a" stroke-width="4.9"/>
<polyline points="1544.5,261 1770,261" fill="none" stroke="#63b3b5" stroke-width="3.9" stroke-linejoin="round"/>
<polyline points="599.5,455.5 615.5,455.5 615.5,780.5 941.5,780.5" fill="none" stroke="#26282a" stroke-width="4.9"/>
<polyline points="598,454 614,454 614,779 940,779" fill="none" stroke="#63b3b5" stroke-width="3.9" stroke-linejoin="round"/>
<polyline points="623.5,299.5 639.5,299.5 639.5,729.5 941.5,729.5" fill="none" stroke="#26282a" stroke-width="4.9"/>
<polyline points="622,298 638,298 638,728 940,728" fill="none" stroke="#63b3b5" stroke-width="3.9" stroke-linejoin="round"/>
<polyline points="623.5,376.5 639.5,376.5" fill="none" stroke="#26282a" stroke-width="4.9"/>
<polyline points="622,375 638,375" fill="none" stroke="#63b3b5" stroke-width="3.9" stroke-linejoin="round"/>
<polyline points="639.5,678.5 941.5,678.5" fill="none" stroke="#26282a" stroke-width="4.9"/>
<polyline points="638,677 940,677" fill="none" stroke="#63b3b5" stroke-width="3.9" stroke-linejoin="round"/>
<polyline points="642.5,222.5 660.5,222.5 660.5,755.5 941.5,755.5" fill="none" stroke="#26282a" stroke-width="4.9"/>
<polyline points="641,221 659,221 659,754 940,754" fill="none" stroke="#63b3b5" stroke-width="3.9" stroke-linejoin="round"/>
<polyline points="623.5,325.5 660.5,325.5" fill="none" stroke="#26282a" stroke-width="4.9"/>
<polyline points="622,324 659,324" fill="none" stroke="#63b3b5" stroke-width="3.9" stroke-linejoin="round"/>
<polyline points="623.5,401.5 660.5,401.5" fill="none" stroke="#26282a" stroke-width="4.9"/>
<polyline points="622,400 659,400" fill="none" stroke="#63b3b5" stroke-width="3.9" stroke-linejoin="round"/>
<polyline points="660.5,627.5 941.5,627.5" fill="none" stroke="#26282a" stroke-width="4.9"/>
<polyline points="659,626 940,626" fill="none" stroke="#63b3b5" stroke-width="3.9" stroke-linejoin="round"/>
<polyline points="660.5,704.5 941.5,704.5" fill="none" stroke="#26282a" stroke-width="4.9"/>
<polyline points="659,703 940,703" fill="none" stroke="#63b3b5" stroke-width="3.9" stroke-linejoin="round"/>
<polyline points="642.5,248.5 680.5,248.5 680.5,653.5 941.5,653.5" fill="none" stroke="#26282a" stroke-width="4.9"/>
<polyline points="641,247 679,247 679,652 940,652" fill="none" stroke="#63b3b5" stroke-width="3.9" stroke-linejoin="round"/>
<polyline points="932.5,224.5 955.5,224.5" fill="none" stroke="#26282a" stroke-width="4.9"/>
<polyline points="931,223.0 954,223.0" fill="none" stroke="#63b3b5" stroke-width="3.9" stroke-linejoin="round"/>
<polyline points="932.5,250.05 955.5,250.05" fill="none" stroke="#26282a" stroke-width="4.9"/>
<polyline points="931,248.55 954,248.55" fill="none" stroke="#63b3b5" stroke-width="3.9" stroke-linejoin="round"/>
<polyline points="932.5,275.6 955.5,275.6" fill="none" stroke="#26282a" stroke-width="4.9"/>
<polyline points="931,274.1 954,274.1" fill="none" stroke="#63b3b5" stroke-width="3.9" stroke-linejoin="round"/>
<polyline points="932.5,301.15 955.5,301.15" fill="none" stroke="#26282a" stroke-width="4.9"/>
<polyline points="931,299.65 954,299.65" fill="none" stroke="#63b3b5" stroke-width="3.9" stroke-linejoin="round"/>
<polyline points="932.5,326.7 955.5,326.7" fill="none" stroke="#26282a" stroke-width="4.9"/>
<polyline points="931,325.2 954,325.2" fill="none" stroke="#63b3b5" stroke-width="3.9" stroke-linejoin="round"/>
<polyline points="932.5,352.25 955.5,352.25" fill="none" stroke="#26282a" stroke-width="4.9"/>
<polyline points="931,350.75 954,350.75" fill="none" stroke="#63b3b5" stroke-width="3.9" stroke-linejoin="round"/>
<polyline points="932.5,377.8 955.5,377.8" fill="none" stroke="#26282a" stroke-width="4.9"/>
<polyline points="931,376.3 954,376.3" fill="none" stroke="#63b3b5" stroke-width="3.9" stroke-linejoin="round"/>
<polyline points="932.5,403.35 955.5,403.35" fill="none" stroke="#26282a" stroke-width="4.9"/>
<polyline points="931,401.85 954,401.85" fill="none" stroke="#63b3b5" stroke-width="3.9" stroke-linejoin="round"/>
<polyline points="932.5,428.9 955.5,428.9" fill="none" stroke="#26282a" stroke-width="4.9"/>
<polyline points="931,427.4 954,427.4" fill="none" stroke="#63b3b5" stroke-width="3.9" stroke-linejoin="round"/>
<polyline points="932.5,454.45000000000005 955.5,454.45000000000005" fill="none" stroke="#26282a" stroke-width="4.9"/>
<polyline points="931,452.95000000000005 954,452.95000000000005" fill="none" stroke="#63b3b5" stroke-width="3.9" stroke-linejoin="round"/>
<polyline points="932.5,480.0 955.5,480.0" fill="none" stroke="#26282a" stroke-width="4.9"/>
<polyline points="931,478.5 954,478.5" fill="none" stroke="#63b3b5" stroke-width="3.9" stroke-linejoin="round"/>
<polyline points="932.5,505.55 955.5,505.55" fill="none" stroke="#26282a" stroke-width="4.9"/>
<polyline points="931,504.05 954,504.05" fill="none" stroke="#63b3b5" stroke-width="3.9" stroke-linejoin="round"/>
<polyline points="932.5,531.1 955.5,531.1" fill="none" stroke="#26282a" stroke-width="4.9"/>
<polyline points="931,529.6 954,529.6" fill="none" stroke="#63b3b5" stroke-width="3.9" stroke-linejoin="round"/>
<polyline points="932.5,556.6500000000001 955.5,556.6500000000001" fill="none" stroke="#26282a" stroke-width="4.9"/>
<polyline points="931,555.1500000000001 954,555.1500000000001" fill="none" stroke="#63b3b5" stroke-width="3.9" stroke-linejoin="round"/>
<polyline points="932.5,582.2 955.5,582.2" fill="none" stroke="#26282a" stroke-width="4.9"/>
<polyline points="931,580.7 954,580.7" fill="none" stroke="#63b3b5" stroke-width="3.9" stroke-linejoin="round"/>
<polyline points="932.5,607.75 955.5,607.75" fill="none" stroke="#26282a" stroke-width="4.9"/>
<polyline points="931,606.25 954,606.25" fill="none" stroke="#63b3b5" stroke-width="3.9" stroke-linejoin="round"/>
<polyline points="1434.6,841.5 1434.6,1462.5 1737.5,1462.5" fill="none" stroke="#26282a" stroke-width="4.0"/>
<polyline points="1433.1,840 1433.1,1461 1736,1461" fill="none" stroke="#63b3b5" stroke-width="3.0" stroke-linejoin="round"/>
<polyline points="1481.46,841.5 1481.46,1487.5 1737.5,1487.5" fill="none" stroke="#26282a" stroke-width="4.0"/>
<polyline points="1479.96,840 1479.96,1486 1736,1486" fill="none" stroke="#63b3b5" stroke-width="3.0" stroke-linejoin="round"/>
<polyline points="966.0,841.5 966.0,934.5 1635.5,934.5" fill="none" stroke="#26282a" stroke-width="4.9"/>
<polyline points="964.5,840 964.5,933 1634,933" fill="none" stroke="#63b3b5" stroke-width="3.9" stroke-linejoin="round"/>
<polyline points="1012.86,841.5 1012.86,959.5 1635.5,959.5" fill="none" stroke="#26282a" stroke-width="4.9"/>
<polyline points="1011.36,840 1011.36,958 1634,958" fill="none" stroke="#63b3b5" stroke-width="3.9" stroke-linejoin="round"/>
<polyline points="1059.72,841.5 1059.72,1100.5 1673.5,1100.5" fill="none" stroke="#26282a" stroke-width="4.9"/>
<polyline points="1058.22,840 1058.22,1099 1672,1099" fill="none" stroke="#63b3b5" stroke-width="3.9" stroke-linejoin="round"/>
<polyline points="1106.58,841.5 1106.58,1125.5 1673.5,1125.5" fill="none" stroke="#26282a" stroke-width="4.9"/>
<polyline points="1105.08,840 1105.08,1124 1672,1124" fill="none" stroke="#63b3b5" stroke-width="3.9" stroke-linejoin="round"/>
<polyline points="946.5,193.5 362.5,193.5 362.5,1149.5" fill="none" stroke="#26282a" stroke-width="4.9"/>
<polyline points="945,192 361,192 361,1148" fill="none" stroke="#c68b4f" stroke-width="3.9" stroke-linejoin="round"/>
<polyline points="362.5,855.5 1750.5,855.5 1750.5,874.5" fill="none" stroke="#26282a" stroke-width="4.9"/>
<polyline points="361,854 1749,854 1749,873" fill="none" stroke="#c68b4f" stroke-width="3.9" stroke-linejoin="round"/>
<polyline points="366.5,1021.5 1772.5,1021.5 1772.5,1041.5" fill="none" stroke="#26282a" stroke-width="4.9"/>
<polyline points="365,1020 1771,1020 1771,1040" fill="none" stroke="#c68b4f" stroke-width="3.9" stroke-linejoin="round"/>
<polyline points="1153.44,841.5 1153.44,1228.5 1622.5,1228.5" fill="none" stroke="#26282a" stroke-width="4.9"/>
<polyline points="1151.94,840 1151.94,1227 1621,1227" fill="none" stroke="#63b3b5" stroke-width="3.9" stroke-linejoin="round"/>
<polyline points="1200.3,841.5 1200.3,1254.5 1622.5,1254.5" fill="none" stroke="#26282a" stroke-width="4.9"/>
<polyline points="1198.8,840 1198.8,1253 1621,1253" fill="none" stroke="#63b3b5" stroke-width="3.9" stroke-linejoin="round"/>
<polyline points="362.5,1149.5 1754.5,1149.5 1754.5,1167.5" fill="none" stroke="#26282a" stroke-width="4.9"/>
<polyline points="361,1148 1753,1148 1753,1166" fill="none" stroke="#c68b4f" stroke-width="3.9" stroke-linejoin="round"/>
<polyline points="1247.1599999999999,841.5 1247.1599999999999,1308.5 1635.5,1308.5" fill="none" stroke="#26282a" stroke-width="4.9"/>
<polyline points="1245.6599999999999,840 1245.6599999999999,1307 1634,1307" fill="none" stroke="#63b3b5" stroke-width="3.9" stroke-linejoin="round"/>
<polyline points="1294.02,841.5 1294.02,1334.5 1635.5,1334.5" fill="none" stroke="#26282a" stroke-width="4.9"/>
<polyline points="1292.52,840 1292.52,1333 1634,1333" fill="none" stroke="#63b3b5" stroke-width="3.9" stroke-linejoin="round"/>
<polyline points="1340.88,841.5 1340.88,1385.5 1635.5,1385.5" fill="none" stroke="#26282a" stroke-width="4.9"/>
<polyline points="1339.38,840 1339.38,1384 1634,1384" fill="none" stroke="#63b3b5" stroke-width="3.9" stroke-linejoin="round"/>
<polyline points="1387.74,841.5 1387.74,1411.5 1635.5,1411.5" fill="none" stroke="#26282a" stroke-width="4.9"/>
<polyline points="1386.24,840 1386.24,1410 1634,1410" fill="none" stroke="#63b3b5" stroke-width="3.9" stroke-linejoin="round"/>
<polyline points="362.5,902.5 584.5,902.5" fill="none" stroke="#26282a" stroke-width="4.9"/>
<polyline points="361,901 583,901" fill="none" stroke="#c68b4f" stroke-width="3.9" stroke-linejoin="round"/>
<polyline points="346.5,1117.5 362.5,1117.5" fill="none" stroke="#26282a" stroke-width="4.9"/>
<polyline points="345,1116 361,1116" fill="none" stroke="#c68b4f" stroke-width="3.9" stroke-linejoin="round"/>
<polyline points="546.5,954.5 405.5,954.5 405.5,1245.5 346.5,1245.5" fill="none" stroke="#26282a" stroke-width="4.9"/>
<polyline points="545,953 404,953 404,1244 345,1244" fill="none" stroke="#c68b4f" stroke-width="3.9" stroke-linejoin="round"/>
<polyline points="346.5,1194.5 411.5,1194.5" fill="none" stroke="#26282a" stroke-width="4.9"/>
<polyline points="345,1193 410,1193" fill="none" stroke="#c68b4f" stroke-width="3.9" stroke-linejoin="round"/>
<polyline points="346.5,1296.5 413.5,1296.5 413.5,1375.5 431.5,1375.5" fill="none" stroke="#26282a" stroke-width="4.9"/>
<polyline points="345,1295 412,1295 412,1374 430,1374" fill="none" stroke="#c68b4f" stroke-width="3.9" stroke-linejoin="round"/>
<polyline points="413.5,1324.5 431.5,1324.5" fill="none" stroke="#26282a" stroke-width="4.9"/>
<polyline points="412,1323 430,1323" fill="none" stroke="#c68b4f" stroke-width="3.9" stroke-linejoin="round"/>
<polyline points="421.5,1117.5 384.5,1117.5 384.5,1309.5 623.5,1309.5" fill="none" stroke="#26282a" stroke-width="4.9"/>
<polyline points="420,1116 383,1116 383,1308 622,1308" fill="none" stroke="#c68b4f" stroke-width="3.9" stroke-linejoin="round"/>
<polyline points="859.5,1219.5 876.5,1219.5" fill="none" stroke="#26282a" stroke-width="4.9"/>
<polyline points="858,1218 875,1218" fill="none" stroke="#c68b4f" stroke-width="3.9" stroke-linejoin="round"/>
<polyline points="959.5,1183.5 876.5,1183.5 876.5,1259.5 959.5,1259.5" fill="none" stroke="#26282a" stroke-width="4.9"/>
<polyline points="958,1182 875,1182 875,1258 958,1258" fill="none" stroke="#c68b4f" stroke-width="3.9" stroke-linejoin="round"/>
<polyline points="615.5,1130.5 627.5,1130.5" fill="none" stroke="#26282a" stroke-width="4.9"/>
<polyline points="614,1129 626,1129" fill="none" stroke="#c68b4f" stroke-width="3.9" stroke-linejoin="round"/>
<polyline points="605.5,1206.5 625.5,1206.5" fill="none" stroke="#26282a" stroke-width="4.9"/>
<polyline points="604,1205 624,1205" fill="none" stroke="#c68b4f" stroke-width="3.9" stroke-linejoin="round"/>
<polyline points="605.5,1257.5 625.5,1257.5" fill="none" stroke="#26282a" stroke-width="4.9"/>
<polyline points="604,1256 624,1256" fill="none" stroke="#c68b4f" stroke-width="3.9" stroke-linejoin="round"/>
<polyline points="306.5,1017.5 41.5,1017.5 41.5,1169.0 61.5,1169.0" fill="none" stroke="#26282a" stroke-width="4.9"/>
<polyline points="305,1016 40,1016 40,1167.5 60,1167.5" fill="none" stroke="#c68b4f" stroke-width="3.9" stroke-linejoin="round"/>
<polyline points="41.5,1068.5 61.5,1068.5" fill="none" stroke="#26282a" stroke-width="4.9"/>
<polyline points="40,1067 60,1067" fill="none" stroke="#c68b4f" stroke-width="3.9" stroke-linejoin="round"/>
<polyline points="61.5,1194.5 19.5,1194.5 19.5,1400.5 371.5,1400.5" fill="none" stroke="#26282a" stroke-width="4.9"/>
<polyline points="60,1193 18,1193 18,1399 370,1399" fill="none" stroke="#c68b4f" stroke-width="3.9" stroke-linejoin="round"/>
<polyline points="40.5,1400.5 40.5,1350.5 61.5,1350.5" fill="none" stroke="#26282a" stroke-width="4.9"/>
<polyline points="39,1399 39,1349 60,1349" fill="none" stroke="#c68b4f" stroke-width="3.9" stroke-linejoin="round"/>
<polygon points="939,181.0 951,192.0 939,203.0" fill="#3f9c9f"/>
<polygon points="939,206.55 951,217.55 939,228.55" fill="#3f9c9f"/>
<polygon points="939,232.1 951,243.1 939,254.1" fill="#3f9c9f"/>
<polygon points="939,257.65 951,268.65 939,279.65" fill="#3f9c9f"/>
<polygon points="939,283.2 951,294.2 939,305.2" fill="#3f9c9f"/>
<polygon points="939,308.75 951,319.75 939,330.75" fill="#3f9c9f"/>
<polygon points="939,334.3 951,345.3 939,356.3" fill="#3f9c9f"/>
<polygon points="939,359.85 951,370.85 939,381.85" fill="#3f9c9f"/>
<polygon points="939,385.4 951,396.4 939,407.4" fill="#3f9c9f"/>
<polygon points="939,410.95000000000005 951,421.95000000000005 939,432.95000000000005" fill="#3f9c9f"/>
<polygon points="939,436.5 951,447.5 939,458.5" fill="#3f9c9f"/>
<polygon points="939,462.05 951,473.05 939,484.05" fill="#3f9c9f"/>
<polygon points="939,487.6 951,498.6 939,509.6" fill="#3f9c9f"/>
<polygon points="939,513.1500000000001 951,524.1500000000001 939,535.1500000000001" fill="#3f9c9f"/>
<polygon points="939,538.7 951,549.7 939,560.7" fill="#3f9c9f"/>
<polygon points="939,564.25 951,575.25 939,586.25" fill="#3f9c9f"/>
<polygon points="939,589.8 951,600.8 939,611.8" fill="#3f9c9f"/>
<polygon points="939,615.35 951,626.35 939,637.35" fill="#3f9c9f"/>
<polygon points="939,640.9000000000001 951,651.9000000000001 939,662.9000000000001" fill="#3f9c9f"/>
<polygon points="939,666.45 951,677.45 939,688.45" fill="#3f9c9f"/>
<polygon points="939,692.0 951,703.0 939,714.0" fill="#3f9c9f"/>
<polygon points="939,717.5500000000001 951,728.5500000000001 939,739.5500000000001" fill="#3f9c9f"/>
<polygon points="939,743.1 951,754.1 939,765.1" fill="#3f9c9f"/>
<polygon points="939,768.65 951,779.65 939,790.65" fill="#3f9c9f"/>
<polygon points="1770,147.0 1782,158 1770,169.0" fill="#3f9c9f"/>
<polygon points="1770,173.0 1782,184 1770,195.0" fill="#3f9c9f"/>
<polygon points="1770,224.0 1782,235 1770,246.0" fill="#3f9c9f"/>
<polygon points="1770,250.0 1782,261 1770,272.0" fill="#3f9c9f"/>
<polygon points="1719,746.5 1731,757.5 1719,768.5" fill="#3f9c9f"/>
<polygon points="1719,773.0 1731,784 1719,795.0" fill="#3f9c9f"/>
<polygon points="1719,799.0 1731,810 1719,821.0" fill="#3f9c9f"/>
<polygon points="1630,922.0 1642,933 1630,944.0" fill="#3f9c9f"/>
<polygon points="1630,947.0 1642,958 1630,969.0" fill="#3f9c9f"/>
<polygon points="1630,1296.0 1642,1307 1630,1318.0" fill="#3f9c9f"/>
<polygon points="1630,1322.0 1642,1333 1630,1344.0" fill="#3f9c9f"/>
<polygon points="1630,1373.0 1642,1384 1630,1395.0" fill="#3f9c9f"/>
<polygon points="1630,1399.0 1642,1410 1630,1421.0" fill="#3f9c9f"/>
<polygon points="1668,1088.0 1680,1099 1668,1110.0" fill="#3f9c9f"/>
<polygon points="1668,1113.0 1680,1124 1668,1135.0" fill="#3f9c9f"/>
<polygon points="1617,1216.0 1629,1227 1617,1238.0" fill="#3f9c9f"/>
<polygon points="1617,1242.0 1629,1253 1617,1264.0" fill="#3f9c9f"/>
<polygon points="1732,1450.0 1744,1461 1732,1472.0" fill="#3f9c9f"/>
<polygon points="1732,1475.0 1744,1486 1732,1497.0" fill="#3f9c9f"/>
<polygon points="577,890.0 589,901 577,912.0" fill="#3f9c9f"/>
<polygon points="540,942.0 552,953 540,964.0" fill="#3f9c9f"/>
<polygon points="56,1056.0 68,1067 56,1078.0" fill="#3f9c9f"/>
<polygon points="56,1156.5 68,1167.5 56,1178.5" fill="#3f9c9f"/>
<polygon points="56,1182.05 68,1193.05 56,1204.05" fill="#3f9c9f"/>
<polygon points="56,1207.6 68,1218.6 56,1229.6" fill="#3f9c9f"/>
<polygon points="56,1233.15 68,1244.15 56,1255.15" fill="#3f9c9f"/>
<polygon points="620,1117.7 632,1128.7 620,1139.7" fill="#3f9c9f"/>
<polygon points="620,1143.25 632,1154.25 620,1165.25" fill="#3f9c9f"/>
<polygon points="620,1168.8 632,1179.8 620,1190.8" fill="#3f9c9f"/>
<polygon points="620,1194.3500000000001 632,1205.3500000000001 620,1216.3500000000001" fill="#3f9c9f"/>
<polygon points="620,1219.9 632,1230.9 620,1241.9" fill="#3f9c9f"/>
<polygon points="620,1245.45 632,1256.45 620,1267.45" fill="#3f9c9f"/>
<polygon points="620,1271.0 632,1282.0 620,1293.0" fill="#3f9c9f"/>
<polygon points="620,1296.55 632,1307.55 620,1318.55" fill="#3f9c9f"/>
<polygon points="427,1312.0 439,1323 427,1334.0" fill="#3f9c9f"/>
<polygon points="427,1363.0 439,1374 427,1385.0" fill="#3f9c9f"/>
<polygon points="56,1338.0 68,1349 56,1360.0" fill="#3f9c9f"/>
<polygon points="952,1171.0 964,1182 952,1193.0" fill="#3f9c9f"/>
<polygon points="952,1247.0 964,1258 952,1269.0" fill="#3f9c9f"/>
<polygon points="632,210.5 641,221 632,231.5" fill="#b86a22"/>
<polygon points="632,236.5 641,247 632,257.5" fill="#b86a22"/>
<polygon points="613,287.5 622,298 613,308.5" fill="#b86a22"/>
<polygon points="613,313.5 622,324 613,334.5" fill="#b86a22"/>
<polygon points="613,364.5 622,375 613,385.5" fill="#b86a22"/>
<polygon points="613,389.5 622,400 613,410.5" fill="#b86a22"/>
<polygon points="590,443.5 599,454 590,464.5" fill="#b86a22"/>
<polygon points="926,211.5 933,222.0 926,232.5" fill="#b86a22"/>
<polygon points="926,237.05 933,247.55 926,258.05" fill="#b86a22"/>
<polygon points="926,262.6 933,273.1 926,283.6" fill="#b86a22"/>
<polygon points="926,288.15 933,298.65 926,309.15" fill="#b86a22"/>
<polygon points="926,313.7 933,324.2 926,334.7" fill="#b86a22"/>
<polygon points="926,339.25 933,349.75 926,360.25" fill="#b86a22"/>
<polygon points="926,364.8 933,375.3 926,385.8" fill="#b86a22"/>
<polygon points="926,390.35 933,400.85 926,411.35" fill="#b86a22"/>
<polygon points="926,415.9 933,426.4 926,436.9" fill="#b86a22"/>
<polygon points="926,441.45000000000005 933,451.95000000000005 926,462.45000000000005" fill="#b86a22"/>
<polygon points="926,467.0 933,477.5 926,488.0" fill="#b86a22"/>
<polygon points="926,492.55 933,503.05 926,513.55" fill="#b86a22"/>
<polygon points="926,518.1 933,528.6 926,539.1" fill="#b86a22"/>
<polygon points="926,543.6500000000001 933,554.1500000000001 926,564.6500000000001" fill="#b86a22"/>
<polygon points="926,569.2 933,579.7 926,590.2" fill="#b86a22"/>
<polygon points="926,594.75 933,605.25 926,615.75" fill="#b86a22"/>
<polygon points="1500,449.5 1509,460 1500,470.5" fill="#b86a22"/>
<polygon points="1500,475.5 1509,486 1500,496.5" fill="#b86a22"/>
<polygon points="1500,500.5 1509,511 1500,521.5" fill="#b86a22"/>
<polygon points="1912,922.5 1921,933 1912,943.5" fill="#b86a22"/>
<polygon points="1912,947.5 1921,958 1912,968.5" fill="#b86a22"/>
<polygon points="1914,1088.5 1923,1099 1914,1109.5" fill="#b86a22"/>
<polygon points="1914,1113.5 1923,1124 1914,1134.5" fill="#b86a22"/>
<polygon points="1928,1216.5 1933,1227 1928,1237.5" fill="#b86a22"/>
<polygon points="1928,1242.5 1933,1253 1928,1263.5" fill="#b86a22"/>
<polygon points="1928,1296.5 1933,1307 1928,1317.5" fill="#b86a22"/>
<polygon points="1928,1322.5 1933,1333 1928,1343.5" fill="#b86a22"/>
<polygon points="1910,1373.5 1919,1384 1910,1394.5" fill="#b86a22"/>
<polygon points="1910,1399.5 1919,1410 1910,1420.5" fill="#b86a22"/>
<polygon points="1932,1450.5 1941,1461 1932,1471.5" fill="#b86a22"/>
<polygon points="1932,1475.5 1941,1486 1932,1496.5" fill="#b86a22"/>
<polygon points="337,1105.5 346,1116.0 337,1126.5" fill="#b86a22"/>
<polygon points="337,1131.05 346,1141.55 337,1152.05" fill="#b86a22"/>
<polygon points="337,1156.6 346,1167.1 337,1177.6" fill="#b86a22"/>
<polygon points="337,1182.15 346,1192.65 337,1203.15" fill="#b86a22"/>
<polygon points="337,1207.7 346,1218.2 337,1228.7" fill="#b86a22"/>
<polygon points="337,1233.25 346,1243.75 337,1254.25" fill="#b86a22"/>
<polygon points="337,1258.8 346,1269.3 337,1279.8" fill="#b86a22"/>
<polygon points="337,1284.35 346,1294.85 337,1305.35" fill="#b86a22"/>
<polygon points="598,1194.5 607,1205 598,1215.5" fill="#b86a22"/>
<polygon points="598,1245.5 607,1256 598,1266.5" fill="#b86a22"/>
<polygon points="849,1207.5 858,1218 849,1228.5" fill="#b86a22"/>
<polygon points="302,1004.0 314,1016 302,1028.0" fill="#c68b4f"/>
<polygon points="364,1387.0 376,1399 364,1411.0" fill="#c68b4f"/>
<polygon points="953.5,130 975.5,130 964.5,142" fill="#3f9c9f"/>
<polygon points="954.5,833 974.5,833 964.5,842" fill="#b86a22"/>
<polygon points="1000.36,130 1022.36,130 1011.36,142" fill="#3f9c9f"/>
<polygon points="1001.36,833 1021.36,833 1011.36,842" fill="#b86a22"/>
<polygon points="1047.22,130 1069.22,130 1058.22,142" fill="#3f9c9f"/>
<polygon points="1048.22,833 1068.22,833 1058.22,842" fill="#b86a22"/>
<polygon points="1094.08,130 1116.08,130 1105.08,142" fill="#3f9c9f"/>
<polygon points="1095.08,833 1115.08,833 1105.08,842" fill="#b86a22"/>
<polygon points="1140.94,130 1162.94,130 1151.94,142" fill="#3f9c9f"/>
<polygon points="1141.94,833 1161.94,833 1151.94,842" fill="#b86a22"/>
<polygon points="1187.8,130 1209.8,130 1198.8,142" fill="#3f9c9f"/>
<polygon points="1188.8,833 1208.8,833 1198.8,842" fill="#b86a22"/>
<polygon points="1234.6599999999999,130 1256.6599999999999,130 1245.6599999999999,142" fill="#3f9c9f"/>
<polygon points="1235.6599999999999,833 1255.6599999999999,833 1245.6599999999999,842" fill="#b86a22"/>
<polygon points="1281.52,130 1303.52,130 1292.52,142" fill="#3f9c9f"/>
<polygon points="1282.52,833 1302.52,833 1292.52,842" fill="#b86a22"/>
<polygon points="1328.38,130 1350.38,130 1339.38,142" fill="#3f9c9f"/>
<polygon points="1329.38,833 1349.38,833 1339.38,842" fill="#b86a22"/>
<polygon points="1375.24,130 1397.24,130 1386.24,142" fill="#3f9c9f"/>
<polygon points="1376.24,833 1396.24,833 1386.24,842" fill="#b86a22"/>
<polygon points="1422.1,130 1444.1,130 1433.1,142" fill="#3f9c9f"/>
<polygon points="1423.1,833 1443.1,833 1433.1,842" fill="#b86a22"/>
<polygon points="1468.96,130 1490.96,130 1479.96,142" fill="#3f9c9f"/>
<polygon points="1469.96,833 1489.96,833 1479.96,842" fill="#b86a22"/>
<polygon points="1739.0,871 1759.0,871 1749,882" fill="#3f9c9f"/>
<polygon points="1786.0,880 1806.0,880 1796,869" fill="#b86a22"/>
<polygon points="1763.0,1020 1783.0,1020 1773,1009" fill="#3f9c9f"/>
<polygon points="1761.0,1037 1781.0,1037 1771,1048" fill="#3f9c9f"/>
<polygon points="1807.0,1046 1827.0,1046 1817,1035" fill="#b86a22"/>
<polygon points="1743.0,1163 1763.0,1163 1753,1174" fill="#3f9c9f"/>
<polygon points="1790.0,1172 1810.0,1172 1800,1161" fill="#b86a22"/>
<text x="33" y="32" font-size="23" font-weight="bold" fill="#000" textLength="107.5" lengthAdjust="spacingAndGlyphs">11:55 AM</text>
<text x="165" y="32" font-size="23" font-weight="bold" fill="#000" textLength="99" lengthAdjust="spacingAndGlyphs">Fri Oct 2</text>
<text x="870" y="67.5" font-size="29" font-weight="normal" fill="#000" stroke="#000" stroke-width="0.9" textLength="337" lengthAdjust="spacingAndGlyphs">forums.scopeusers.com</text>
<rect x="840" y="53" width="18" height="15" rx="2" fill="#000"/>
<path d="M843.5,54 V49.5 A5.5,5.5 0 0 1 854.5,49.5 V54" fill="none" stroke="#000" stroke-width="2.6"/>
<path d="M1856,34.5 L1850.91,29.41 A7.2,7.2 0 0 1 1861.09,29.41 Z M1846.24,24.74 A13.8,13.8 0 0 1 1865.76,24.74 L1862.93,27.57 A9.8,9.8 0 0 0 1849.07,27.57 Z M1841.43,19.93 A20.6,20.6 0 0 1 1870.57,19.93 L1867.67,22.83 A16.5,16.5 0 0 0 1844.33,22.83 Z" fill="#000" stroke="#000" stroke-width="0.6" stroke-linejoin="round"/>
<path d="M1880.5,24.5 L1896.5,16.5 L1889.5,33 L1888.5,25.5 Z" fill="none" stroke="#000" stroke-width="1.8" stroke-linejoin="round"/>
<text x="1907" y="32.2" font-size="24" font-weight="bold" fill="#000" textLength="53" lengthAdjust="spacingAndGlyphs">88%</text>
<rect x="1966" y="13" width="46" height="22" rx="5.5" fill="none" stroke="#8a8a8a" stroke-width="1.6"/>
<rect x="1969" y="15.8" width="35.5" height="16.4" rx="3" fill="#000"/>
<rect x="2014.5" y="20" width="3.2" height="8" rx="1.5" fill="#8a8a8a"/>
<circle cx="2026.3" cy="215.8" r="13.6" fill="#7d8083"/>
<path d="M2019.8,208 L2030,216 L2019.8,224 Z" fill="#000" stroke="#000" stroke-width="1" stroke-linejoin="round"/><rect x="2032.3" y="208" width="2.2" height="16" rx="1" fill="#1c1e20"/>
<rect x="2047" y="198" width="1" height="28" fill="#5a8a8a"/>
<rect x="761" y="1509.5" width="526" height="11.5" rx="5.75" fill="#fdfdfd"/></svg></body></html>
